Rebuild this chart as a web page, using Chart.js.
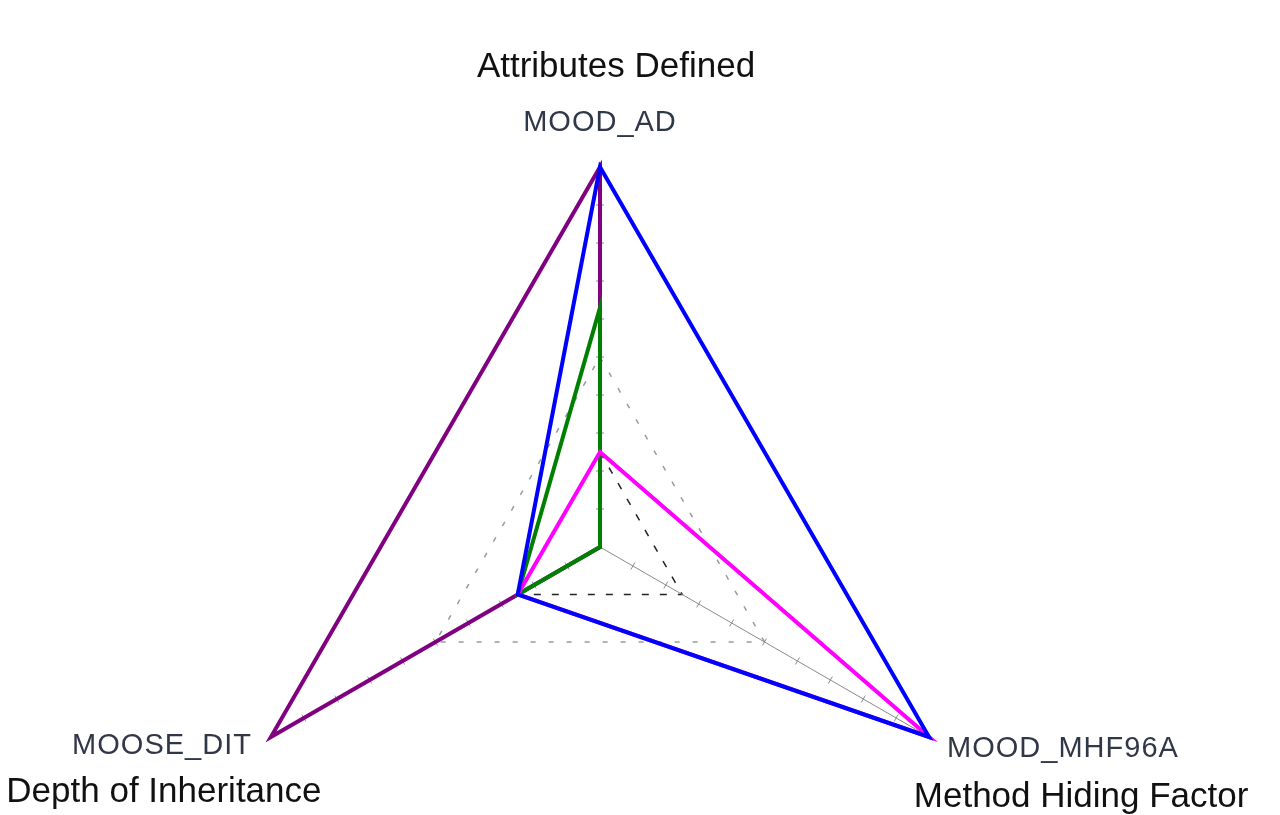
<!DOCTYPE html>
<html>
<head>
<meta charset="utf-8">
<script src="https://cdn.jsdelivr.net/npm/chart.js@4.4.1/dist/chart.umd.min.js"></script>
<style>
  html, body { margin: 0; padding: 0; background: #fff; overflow: hidden; }
  #wrap { position: relative; width: 1280px; height: 930px; }
</style>
</head>
<body>
<div id="wrap"><canvas id="radarChart"></canvas></div>
<script>
// metric codes (axes) and their descriptions
const metricCodes = ['MOOD_AD', 'MOOD_MHF96A', 'MOOSE_DIT'];
const metricNames = ['Attributes Defined', 'Method Hiding Factor', 'Depth of Inheritance'];

// normalised values per series, same order as metricCodes
const purpleValues = [1.0, 0.0, 1.0];
const blueValues = [1.0, 1.0, 0.25];
const greenValues = [0.63, 0.0, 0.25];
const magentaValues = [0.25, 1.0, 0.25];

// grid levels and small tick marks along each axis
const gridStep = 0.25;
const minorTicks = [0.1, 0.2, 0.3, 0.4, 0.5, 0.6, 0.7, 0.8, 0.9];

// only the 0.25 and 0.5 rings are visible in the original
const gridColors = ['rgba(0,0,0,0)', '#222', '#9a9a9a', 'rgba(0,0,0,0)', 'rgba(0,0,0,0)'];
const gridDash = [[], [7, 11], [5, 13], [], []];

const axisLabels = {
  id: 'axisLabels',
  beforeDatasetsDraw(chart) {
    // little tick marks across the spokes
    const r = chart.scales.r;
    const ctx = chart.ctx;
    ctx.save();
    ctx.strokeStyle = '#8a8a8a';
    ctx.lineWidth = 1;
    for (let i = 0; i < metricCodes.length; i++) {
      const a = r.getIndexAngle(i) - Math.PI / 2;
      const nx = -Math.sin(a), ny = Math.cos(a);
      minorTicks.forEach(v => {
        const p = r.getPointPositionForValue(i, v);
        ctx.beginPath();
        ctx.moveTo(p.x - nx * 4, p.y - ny * 4);
        ctx.lineTo(p.x + nx * 4, p.y + ny * 4);
        ctx.stroke();
      });
    }
    ctx.restore();
  },
  afterDraw(chart) {
    const r = chart.scales.r;
    const ctx = chart.ctx;
    // offsets of the two text lines from each axis end
    const codePos = [
      { dx: 0, dy: -36, align: 'center' },
      { dx: 18, dy: 20, align: 'left' },
      { dx: -19, dy: 17, align: 'right' }
    ];
    const namePos = [
      { dx: 16, dy: -90 },
      { dx: 152, dy: 70 },
      { dx: -107, dy: 65 }
    ];
    ctx.save();
    ctx.textBaseline = 'alphabetic';
    for (let i = 0; i < metricCodes.length; i++) {
      const p = r.getPointPositionForValue(i, r.max);
      ctx.font = '29px "Liberation Sans", Arial, sans-serif';
      ctx.letterSpacing = '1px';
      ctx.fillStyle = '#303848';
      ctx.textAlign = codePos[i].align;
      ctx.fillText(metricCodes[i], p.x + codePos[i].dx, p.y + codePos[i].dy);

      ctx.font = '35px "Liberation Sans", Arial, sans-serif';
      ctx.letterSpacing = '0px';
      ctx.fillStyle = '#111';
      ctx.textAlign = 'center';
      ctx.fillText(metricNames[i], p.x + namePos[i].dx, p.y + namePos[i].dy);
    }
    ctx.restore();
  }
};

const line = (data, color) => ({
  data: data,
  borderColor: color,
  backgroundColor: color,
  borderWidth: 4,
  fill: false,
  pointRadius: 0,
  pointHoverRadius: 0,
  tension: 0
});

// first dataset is painted last (on top)
new Chart(document.getElementById('radarChart'), {
  type: 'radar',
  data: {
    labels: metricCodes,
    datasets: [
      line(blueValues, '#0000ff'),
      line(magentaValues, '#ff00ff'),
      line(greenValues, '#008000'),
      line(purpleValues, '#800080')
    ]
  },
  options: {
    responsive: true,
    maintainAspectRatio: false,
    animation: false,
    layout: { padding: { left: 0, right: 80, top: 167, bottom: 3 } },
    plugins: {
      legend: { display: false },
      tooltip: { enabled: false }
    },
    scales: {
      r: {
        min: 0,
        max: 1,
        ticks: { display: false, stepSize: gridStep },
        pointLabels: { display: false },
        angleLines: { color: '#8a8a8a', lineWidth: 1 },
        grid: {
          circular: false,
          color: ctx => gridColors[ctx.index],
          lineWidth: 1.5
        },
        border: { dash: ctx => gridDash[ctx.index] }
      }
    }
  },
  plugins: [axisLabels]
});
</script>
</body>
</html>
